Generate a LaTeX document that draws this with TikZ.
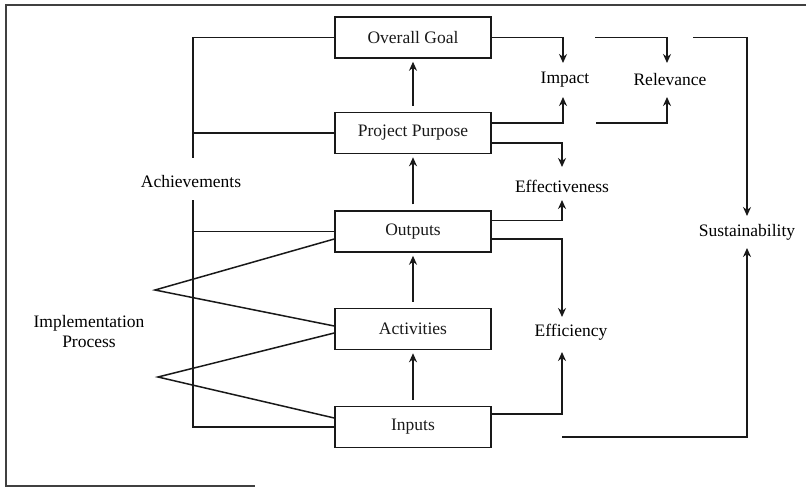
\documentclass[tikz,border=0pt]{standalone}
\usepackage{fontspec}
\setmainfont{Liberation Serif}
\usetikzlibrary{arrows.meta,calc}
\begin{document}
\begin{tikzpicture}[x=1pt,y=-1pt,
  every node/.style={font=\fontsize{17.5}{20}\selectfont},
  ln/.style={line width=1.5pt, black!90},
  arr/.style={ln, -{Stealth[length=9pt,width=8pt]}},
  boxnode/.style={draw, line width=1.5pt, black!90, minimum width=156pt, minimum height=41pt, inner sep=0pt},
  lbl/.style={inner sep=0pt}]
\useasboundingbox (0,0) rectangle (808,488);
% frame
\draw[line width=1.2pt, black!75] (806,5) -- (6,5) -- (6,486) -- (255,486);
% boxes
\node[boxnode] (og) at (413,37.5) {Overall Goal};
\node[boxnode] (pp) at (413,133) {Project Purpose};
\node[boxnode] (out) at (413,231.5) {Outputs};
\node[boxnode] (act) at (413,329) {Activities};
\node[boxnode] (inp) at (413,427) {Inputs};
% labels
\node[lbl] (imp) at (565,80) {Impact};
\node[lbl] (rel) at (670,80) {Relevance};
\node[lbl] (eff) at (562,186) {Effectiveness};
\node[lbl] (sus) at (747,232) {Sustainability};
\node[lbl] (efc) at (571,332) {Efficiency};
\node[lbl] (ach) at (191,182) {Achievements};
\node[lbl, align=center] (ip) at (89,332) {Implementation\\Process};
% vertical chain
\draw[arr, shorten <=6pt, shorten >=3pt] (pp.north) -- (og.south);
\draw[arr, shorten <=6pt, shorten >=3pt] (out.north) -- (pp.south);
\draw[arr, shorten <=6pt, shorten >=3pt] (act.north) -- (out.south);
\draw[arr, shorten <=6pt, shorten >=3pt] (inp.north) -- (act.south);
% achievements spine
\coordinate (s1) at (193,158);
\coordinate (s2) at (193,200);
\draw[ln] (og.west) -| (s1);
\draw[ln] (pp.west) -- (pp.west -| s1);
\draw[ln] (out.west) -- (out.west -| s2);
\draw[ln] (s2) |- (inp.west);
% implementation process
\coordinate (ip1) at (155,290);
\coordinate (ip2) at (158,377);
\draw[ln] ([shift={(0,7.5)}]out.west) -- (ip1) -- ([shift={(0,-3)}]act.west);
\draw[ln] ([shift={(0,4)}]act.west) -- (ip2) -- ([shift={(0,-9)}]inp.west);
% impact
\draw[arr] (og.east) -| ([shift={(-2,-17)}]imp.center);
\draw[arr] ([shift={(0,-10)}]pp.east) -| ([shift={(-2,17)}]imp.center);
% relevance
\coordinate (r1) at (595,37.5);
\coordinate (r2) at (596,123);
\draw[arr] (r1) -| ([shift={(-3,-17)}]rel.center);
\draw[arr] (r2) -| ([shift={(-3,17)}]rel.center);
% sustainability
\coordinate (u1) at (693,37.5);
\coordinate (u2) at (562,437);
\draw[arr] (u1) -| ([shift={(0,-16)}]sus.center);
\draw[arr] (u2) -| ([shift={(0,16)}]sus.center);
% effectiveness
\draw[arr] ([shift={(0,10)}]pp.east) -| ([shift={(0,-19)}]eff.center);
\draw[arr] ([shift={(0,-11)}]out.east) -| ([shift={(0,14)}]eff.center);
% efficiency
\draw[arr] ([shift={(0,7.5)}]out.east) -| ([shift={(-9,-15)}]efc.center);
\draw[arr] ([shift={(0,-13)}]inp.east) -| ([shift={(-9,20)}]efc.center);
\end{tikzpicture}
\end{document}
